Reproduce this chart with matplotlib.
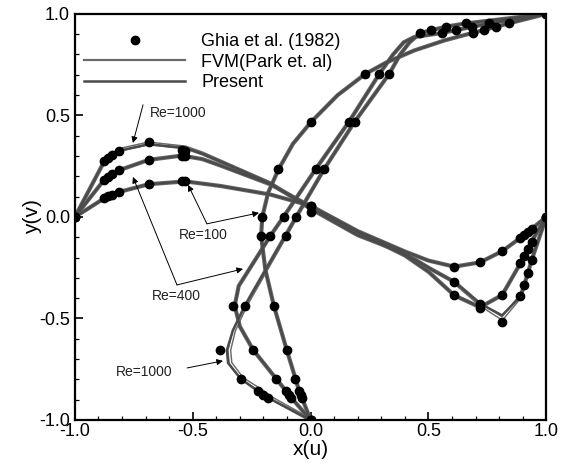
import numpy as np
import matplotlib
matplotlib.use('Agg')
import matplotlib.pyplot as plt
from matplotlib.lines import Line2D
from matplotlib.ticker import MultipleLocator

plt.rcParams['font.family'] = ['Liberation Sans', 'DejaVu Sans']

# --
# Ghia et al. (1982) benchmark, vertical centreline (y, u)
ghia_y = [1.0000, 0.9766, 0.9688, 0.9609, 0.9531, 0.8516, 0.7344, 0.6172, 0.5000,
          0.4531, 0.2813, 0.1719, 0.1016, 0.0703, 0.0625, 0.0547, 0.0000]
ghia_u100 = [1.0, 0.84123, 0.78871, 0.73722, 0.68717, 0.23151, 0.00332, -0.13641, -0.20581,
             -0.21090, -0.15662, -0.10150, -0.06434, -0.04775, -0.04192, -0.03717, 0.0]
ghia_u400 = [1.0, 0.75837, 0.68439, 0.61756, 0.55892, 0.29093, 0.16256, 0.02135, -0.11477,
             -0.17119, -0.32726, -0.24299, -0.14612, -0.10338, -0.09266, -0.08186, 0.0]
ghia_u1000 = [1.0, 0.65928, 0.57492, 0.51117, 0.46604, 0.33304, 0.18719, 0.05702, -0.06080,
              -0.10648, -0.27805, -0.38289, -0.29730, -0.22220, -0.20196, -0.18109, 0.0]

# horizontal centreline (x, v)
ghia_x = [1.0000, 0.9688, 0.9609, 0.9531, 0.9453, 0.9063, 0.8594, 0.8047, 0.5000,
          0.2344, 0.2266, 0.1563, 0.0938, 0.0781, 0.0703, 0.0625, 0.0000]
ghia_v100 = [0.0, -0.05906, -0.07391, -0.08864, -0.10313, -0.16914, -0.22445, -0.24533, 0.05454,
             0.17527, 0.17507, 0.16077, 0.12317, 0.10890, 0.10091, 0.09233, 0.0]
ghia_v400 = [0.0, -0.12146, -0.15663, -0.19254, -0.22847, -0.38500, -0.44993, -0.38598, 0.05186,
             0.30174, 0.30203, 0.28124, 0.22965, 0.20920, 0.19713, 0.18360, 0.0]
ghia_v1000 = [0.0, -0.21388, -0.27669, -0.33714, -0.39188, -0.51550, -0.42665, -0.31966, 0.02526,
              0.32235, 0.33075, 0.37095, 0.32627, 0.30353, 0.29012, 0.27485, 0.0]

# --
# computed profiles (present / FVM)
ln_y100 = [0.0, 0.0547, 0.0703, 0.1016, 0.1719, 0.2813, 0.37, 0.4531, 0.5, 0.56, 0.6172,
           0.68, 0.7344, 0.80, 0.8516, 0.88, 0.91, 0.935, 0.9531, 0.9766, 1.0]
ln_u100 = [0.0, -0.037, -0.048, -0.064, -0.101, -0.156, -0.192, -0.210, -0.205, -0.180, -0.136,
           -0.075, 0.003, 0.115, 0.231, 0.320, 0.440, 0.570, 0.687, 0.841, 1.0]

ln_y400 = [0.0, 0.0547, 0.0703, 0.1016, 0.1719, 0.23, 0.2813, 0.33, 0.4531, 0.5, 0.6172,
           0.7344, 0.8516, 0.90, 0.93, 0.943, 0.9531, 0.9766, 1.0]
ln_u400 = [0.0, -0.082, -0.103, -0.146, -0.243, -0.300, -0.322, -0.305, -0.171, -0.115, 0.021,
           0.163, 0.291, 0.350, 0.395, 0.440, 0.559, 0.758, 1.0]

ln_y1000 = [0.0, 0.0547, 0.0703, 0.1016, 0.14, 0.1719, 0.22, 0.2813, 0.4531, 0.5, 0.6172,
            0.7344, 0.8516, 0.90, 0.93, 0.9531, 0.9688, 0.9766, 1.0]
ln_u1000 = [0.0, -0.181, -0.222, -0.297, -0.350, -0.355, -0.330, -0.278, -0.107, -0.061, 0.057,
            0.187, 0.333, 0.380, 0.420, 0.466, 0.575, 0.659, 1.0]
fvm_u1000 = [0.0, -0.170, -0.205, -0.290, -0.340, -0.345, -0.325, -0.276, -0.107, -0.061, 0.057,
             0.187, 0.333, 0.380, 0.420, 0.466, 0.575, 0.659, 1.0]

ln_x100 = [0.0, 0.0625, 0.0781, 0.0938, 0.1563, 0.2344, 0.31, 0.415, 0.5, 0.6, 0.7, 0.75,
           0.8047, 0.8594, 0.9063, 0.9453, 0.9609, 0.9688, 1.0]
ln_v100 = [0.0, 0.092, 0.109, 0.123, 0.161, 0.175, 0.152, 0.110, 0.055, -0.07, -0.17, -0.215,
           -0.245, -0.224, -0.169, -0.103, -0.074, -0.059, 0.0]

ln_x400 = [0.0, 0.0625, 0.0781, 0.0938, 0.1563, 0.2266, 0.27, 0.31, 0.415, 0.5, 0.6, 0.7, 0.75,
           0.8047, 0.8594, 0.9063, 0.9453, 0.9609, 0.9688, 1.0]
ln_v400 = [0.0, 0.184, 0.209, 0.230, 0.281, 0.302, 0.285, 0.252, 0.160, 0.052, -0.075, -0.19,
           -0.27, -0.386, -0.445, -0.385, -0.228, -0.157, -0.121, 0.0]

ln_x1000 = [0.0, 0.0625, 0.0781, 0.0938, 0.1563, 0.2344, 0.27, 0.31, 0.415, 0.5, 0.6, 0.7, 0.75,
            0.8047, 0.8594, 0.9063, 0.9453, 0.9531, 0.9609, 0.9688, 1.0]
ln_v1000 = [0.0, 0.275, 0.303, 0.326, 0.358, 0.340, 0.312, 0.272, 0.165, 0.040, -0.09, -0.18,
            -0.25, -0.320, -0.427, -0.485, -0.392, -0.337, -0.277, -0.214, 0.0]
fvm_v1000 = [0.0, 0.275, 0.305, 0.330, 0.362, 0.342, 0.313, 0.272, 0.165, 0.040, -0.09, -0.18,
             -0.25, -0.320, -0.430, -0.500, -0.392, -0.337, -0.277, -0.214, 0.0]


def to_plot(a):
    # cavity coordinate [0,1] -> plot coordinate [-1,1]
    return 2 * np.array(a) - 1


fig = plt.figure(figsize=(5.72, 4.63), dpi=100)
ax = fig.add_axes([0.131, 0.093, 0.824, 0.877])

fvm_col = '#6a6a6a'
pre_col = '#4a4a4a'

def fvm_line(x, y):
    ax.plot(x, y, color=fvm_col, lw=3.0, zorder=2, solid_capstyle='round', solid_joinstyle='round')
    ax.plot(x, y, color='white', lw=0.9, zorder=2.1, solid_joinstyle='round')

def present_line(x, y):
    ax.plot(x, y, color=pre_col, lw=1.8, zorder=2.5, solid_capstyle='round', solid_joinstyle='round')

# u profiles
fvm_line(ln_u100, to_plot(ln_y100))
fvm_line(ln_u400, to_plot(ln_y400))
fvm_line(fvm_u1000, to_plot(ln_y1000))
present_line(ln_u100, to_plot(ln_y100))
present_line(ln_u400, to_plot(ln_y400))
present_line(ln_u1000, to_plot(ln_y1000))

# v profiles
fvm_line(to_plot(ln_x100), ln_v100)
fvm_line(to_plot(ln_x400), ln_v400)
fvm_line(to_plot(ln_x1000), fvm_v1000)
present_line(to_plot(ln_x100), ln_v100)
present_line(to_plot(ln_x400), ln_v400)
present_line(to_plot(ln_x1000), ln_v1000)

'''Ghia markers'''
for u in [ghia_u100, ghia_u400, ghia_u1000]:
    ax.plot(u, to_plot(ghia_y), 'o', color='black', ms=6, zorder=3)
for v in [ghia_v100, ghia_v400, ghia_v1000]:
    ax.plot(to_plot(ghia_x), v, 'o', color='black', ms=6, zorder=3)

# --
# annotations
aprops = dict(arrowstyle='-|>', color='black', lw=0.7, mutation_scale=9, shrinkA=0, shrinkB=0)
tkw = dict(fontsize=10, color='#222222', ha='center', va='center')

ax.text(-0.563, 0.512, 'Re=1000', **tkw)
ax.annotate('', xy=(-0.754, 0.364), xytext=(-0.711, 0.552), arrowprops=aprops)

ax.text(-0.455, -0.089, 'Re=100', **tkw)
ax.annotate('', xy=(-0.52, 0.158), xytext=(-0.44, -0.034), arrowprops=aprops)
ax.annotate('', xy=(-0.219, 0.02), xytext=(-0.44, -0.034), arrowprops=aprops)

ax.text(-0.571, -0.389, 'Re=400', **tkw)
ax.annotate('', xy=(-0.754, 0.197), xytext=(-0.567, -0.335), arrowprops=aprops)
ax.annotate('', xy=(-0.287, -0.256), xytext=(-0.567, -0.335), arrowprops=aprops)

ax.text(-0.707, -0.764, 'Re=1000', **tkw)
ax.annotate('', xy=(-0.372, -0.709), xytext=(-0.524, -0.744), arrowprops=aprops)

# --
# legend
handles = [Line2D([], [], ls='none', marker='o', color='black', ms=6),
           Line2D([], [], color=fvm_col, lw=1.6),
           Line2D([], [], color=pre_col, lw=1.8)]
labels = ['Ghia et al. (1982)', 'FVM(Park et. al)', 'Present']
ax.legend(handles, labels, loc='upper left', bbox_to_anchor=(0.0, 0.975), frameon=False,
          fontsize=13, handlelength=5.6, handletextpad=0.9, labelspacing=0.2,
          borderaxespad=0.1)

# --
# axes
ax.set_xlim(-1, 1)
ax.set_ylim(-1, 1)
ax.xaxis.set_major_locator(MultipleLocator(0.5))
ax.yaxis.set_major_locator(MultipleLocator(0.5))
ax.xaxis.set_minor_locator(MultipleLocator(0.1))
ax.yaxis.set_minor_locator(MultipleLocator(0.1))
ax.tick_params(which='both', direction='in', labelsize=13)
ax.tick_params(which='major', length=6, width=1.2)
ax.tick_params(which='minor', length=3, width=0.9)
ax.tick_params(axis='x', pad=2)
ax.xaxis.set_major_formatter(plt.FuncFormatter(lambda v, p: '%.1f' % v))
ax.yaxis.set_major_formatter(plt.FuncFormatter(lambda v, p: '%.1f' % v))
for s in ax.spines.values():
    s.set_linewidth(1.6)

ax.set_xlabel('x(u)', fontsize=15, labelpad=0)
ax.set_ylabel('y(v)', fontsize=15, labelpad=-2)

fig.savefig('out.png', dpi=100)
